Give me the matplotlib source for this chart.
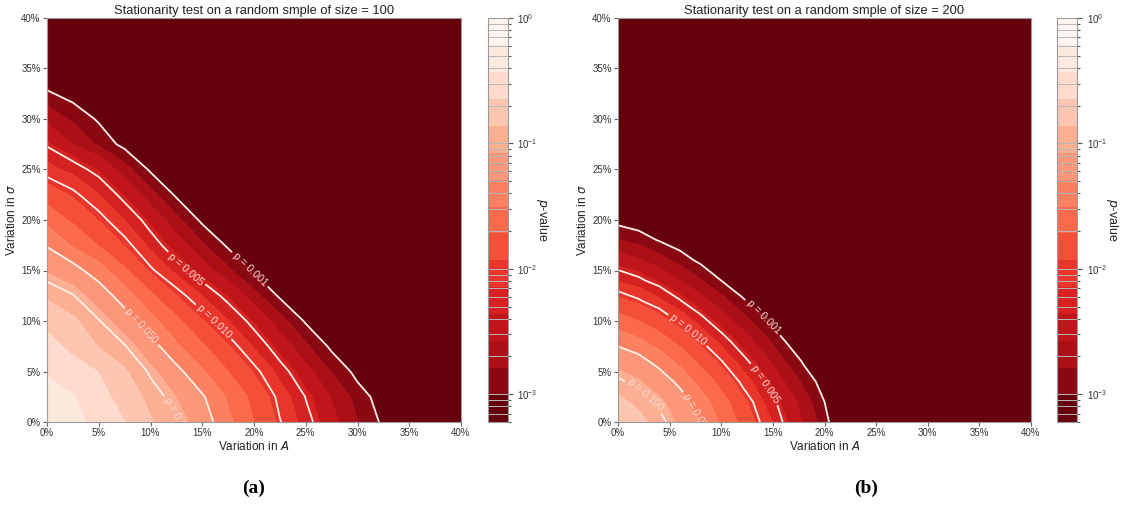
import numpy as np
import matplotlib
matplotlib.use("Agg")
import matplotlib.pyplot as plt
from matplotlib.colors import LogNorm, ListedColormap
from matplotlib.ticker import PercentFormatter, LogFormatterSciNotation

plt.rcParams['font.family'] = ['Liberation Sans', 'DejaVu Sans']

# ---------------- data (variations in %, values are log10 of the p-value) -------------
a_title = "Stationarity test on a random smple of size = 100"
b_title = "Stationarity test on a random smple of size = 200"

a_var_A = [0, 2.5, 5, 7.5, 10, 12.5, 15, 17.5, 20, 22.5, 25, 27.5, 30, 32.5, 35, 37.5, 40]
a_var_sigma = [0, 2.5, 5, 7.5, 10, 12.5, 15, 17.5, 20, 22.5, 25, 27.5, 30, 32.5, 35, 37.5, 40]
a_log10_p = [
    [-0.30, -0.38, -0.48, -0.64, -0.84, -0.98, -1.21, -1.46, -1.72, -1.99, -2.24, -2.51, -2.79, -3.06, -3.30, -3.40, -3.40],
    [-0.35, -0.42, -0.57, -0.75, -0.92, -1.08, -1.28, -1.54, -1.80, -2.06, -2.31, -2.60, -2.89, -3.15, -3.40, -3.40, -3.40],
    [-0.45, -0.55, -0.65, -0.84, -1.03, -1.25, -1.48, -1.72, -1.95, -2.22, -2.51, -2.81, -3.10, -3.37, -3.40, -3.40, -3.40],
    [-0.57, -0.71, -0.87, -0.99, -1.23, -1.47, -1.69, -1.92, -2.17, -2.45, -2.76, -3.07, -3.35, -3.40, -3.40, -3.40, -3.40],
    [-0.71, -0.83, -0.99, -1.20, -1.44, -1.68, -1.92, -2.14, -2.39, -2.72, -3.04, -3.32, -3.40, -3.40, -3.40, -3.40, -3.40],
    [-0.90, -0.99, -1.19, -1.42, -1.68, -1.93, -2.15, -2.39, -2.73, -3.05, -3.33, -3.40, -3.40, -3.40, -3.40, -3.40, -3.40],
    [-1.10, -1.23, -1.42, -1.69, -1.97, -2.21, -2.48, -2.76, -3.04, -3.32, -3.40, -3.40, -3.40, -3.40, -3.40, -3.40, -3.40],
    [-1.32, -1.53, -1.73, -1.94, -2.20, -2.48, -2.76, -3.05, -3.33, -3.40, -3.40, -3.40, -3.40, -3.40, -3.40, -3.40, -3.40],
    [-1.58, -1.76, -1.94, -2.15, -2.41, -2.74, -3.07, -3.35, -3.40, -3.40, -3.40, -3.40, -3.40, -3.40, -3.40, -3.40, -3.40],
    [-1.84, -1.96, -2.14, -2.39, -2.73, -3.05, -3.33, -3.40, -3.40, -3.40, -3.40, -3.40, -3.40, -3.40, -3.40, -3.40, -3.40],
    [-2.09, -2.21, -2.39, -2.72, -3.05, -3.33, -3.40, -3.40, -3.40, -3.40, -3.40, -3.40, -3.40, -3.40, -3.40, -3.40, -3.40],
    [-2.33, -2.59, -2.84, -3.10, -3.37, -3.40, -3.40, -3.40, -3.40, -3.40, -3.40, -3.40, -3.40, -3.40, -3.40, -3.40, -3.40],
    [-2.65, -2.84, -3.04, -3.30, -3.40, -3.40, -3.40, -3.40, -3.40, -3.40, -3.40, -3.40, -3.40, -3.40, -3.40, -3.40, -3.40],
    [-2.96, -3.12, -3.35, -3.40, -3.40, -3.40, -3.40, -3.40, -3.40, -3.40, -3.40, -3.40, -3.40, -3.40, -3.40, -3.40, -3.40],
    [-3.40, -3.40, -3.40, -3.40, -3.40, -3.40, -3.40, -3.40, -3.40, -3.40, -3.40, -3.40, -3.40, -3.40, -3.40, -3.40, -3.40],
    [-3.40, -3.40, -3.40, -3.40, -3.40, -3.40, -3.40, -3.40, -3.40, -3.40, -3.40, -3.40, -3.40, -3.40, -3.40, -3.40, -3.40],
    [-3.40, -3.40, -3.40, -3.40, -3.40, -3.40, -3.40, -3.40, -3.40, -3.40, -3.40, -3.40, -3.40, -3.40, -3.40, -3.40, -3.40],
]

b_var_A = [0, 2, 4, 6, 8, 10, 12, 14, 16, 18, 20, 22, 24, 28, 32, 36, 40]
b_var_sigma = [0, 2, 4, 6, 8, 10, 12, 14, 16, 18, 20, 22, 24, 28, 32, 36, 40]
b_log10_p = [
    [-0.75, -0.80, -0.95, -1.12, -1.30, -1.55, -1.79, -2.04, -2.31, -2.61, -2.95, -3.25, -3.40, -3.40, -3.40, -3.40, -3.40],
    [-0.81, -0.91, -1.04, -1.20, -1.41, -1.64, -1.88, -2.14, -2.41, -2.70, -3.00, -3.29, -3.40, -3.40, -3.40, -3.40, -3.40],
    [-0.97, -1.06, -1.19, -1.36, -1.58, -1.80, -2.04, -2.29, -2.57, -2.86, -3.14, -3.40, -3.40, -3.40, -3.40, -3.40, -3.40],
    [-1.15, -1.23, -1.38, -1.57, -1.78, -1.99, -2.23, -2.49, -2.77, -3.04, -3.33, -3.40, -3.40, -3.40, -3.40, -3.40, -3.40],
    [-1.37, -1.47, -1.62, -1.79, -1.99, -2.21, -2.45, -2.71, -2.98, -3.25, -3.40, -3.40, -3.40, -3.40, -3.40, -3.40, -3.40],
    [-1.63, -1.72, -1.86, -2.03, -2.23, -2.46, -2.70, -2.95, -3.21, -3.40, -3.40, -3.40, -3.40, -3.40, -3.40, -3.40, -3.40],
    [-1.89, -1.98, -2.12, -2.29, -2.50, -2.72, -2.96, -3.21, -3.40, -3.40, -3.40, -3.40, -3.40, -3.40, -3.40, -3.40, -3.40],
    [-2.17, -2.26, -2.40, -2.58, -2.78, -3.00, -3.23, -3.40, -3.40, -3.40, -3.40, -3.40, -3.40, -3.40, -3.40, -3.40, -3.40],
    [-2.47, -2.56, -2.71, -2.88, -3.07, -3.29, -3.40, -3.40, -3.40, -3.40, -3.40, -3.40, -3.40, -3.40, -3.40, -3.40, -3.40],
    [-2.79, -2.88, -3.02, -3.18, -3.37, -3.40, -3.40, -3.40, -3.40, -3.40, -3.40, -3.40, -3.40, -3.40, -3.40, -3.40, -3.40],
    [-3.11, -3.19, -3.33, -3.40, -3.40, -3.40, -3.40, -3.40, -3.40, -3.40, -3.40, -3.40, -3.40, -3.40, -3.40, -3.40, -3.40],
    [-3.40, -3.40, -3.40, -3.40, -3.40, -3.40, -3.40, -3.40, -3.40, -3.40, -3.40, -3.40, -3.40, -3.40, -3.40, -3.40, -3.40],
    [-3.40, -3.40, -3.40, -3.40, -3.40, -3.40, -3.40, -3.40, -3.40, -3.40, -3.40, -3.40, -3.40, -3.40, -3.40, -3.40, -3.40],
    [-3.40, -3.40, -3.40, -3.40, -3.40, -3.40, -3.40, -3.40, -3.40, -3.40, -3.40, -3.40, -3.40, -3.40, -3.40, -3.40, -3.40],
    [-3.40, -3.40, -3.40, -3.40, -3.40, -3.40, -3.40, -3.40, -3.40, -3.40, -3.40, -3.40, -3.40, -3.40, -3.40, -3.40, -3.40],
    [-3.40, -3.40, -3.40, -3.40, -3.40, -3.40, -3.40, -3.40, -3.40, -3.40, -3.40, -3.40, -3.40, -3.40, -3.40, -3.40, -3.40],
    [-3.40, -3.40, -3.40, -3.40, -3.40, -3.40, -3.40, -3.40, -3.40, -3.40, -3.40, -3.40, -3.40, -3.40, -3.40, -3.40, -3.40],
]

p_min = 6e-4
line_levels = [0.001, 0.005, 0.01, 0.05, 0.1]
axis_ticks = [0, 5, 10, 15, 20, 25, 30, 35, 40]
cbar_major = [1e-3, 1e-2, 1e-1, 1e0]

# label anchor positions (x, y in %)
a_label_pos = [(19.6, 15.1), (13.3, 15.0), (16.0, 9.8), (9.0, 9.35), (12.9, 0.6)]
b_label_pos = [(13.8, 10.1), (7.0, 9.4), (14.6, 4.0), (3.1, 3.2), (7.8, 1.0)]

# ---------------- figure ----------------
W, H = 1121, 505
fig = plt.figure(figsize=(W / 100, H / 100), dpi=100)

n_bands = 15
fill_levels = np.logspace(np.log10(p_min), 0, n_bands + 1)
base = plt.get_cmap('Reds_r')
band_cmap = ListedColormap([base(i / (n_bands - 1)) for i in range(n_bands)])
spine_col = '#9a9a9a'


def px_rect(x0, y0, x1, y1):
    return [x0 / W, 1 - y1 / H, (x1 - x0) / W, (y1 - y0) / H]


def panel(ax_rect, cax_rect, xs, ys, logp, title, label_pos, letter, letter_x):
    ax = fig.add_axes(px_rect(*ax_rect))
    cax = fig.add_axes(px_rect(*cax_rect))
    X, Y = np.meshgrid(xs, ys)
    P = 10.0 ** np.array(logp)
    Pf = np.clip(P, fill_levels[0], 1.0)
    cf = ax.contourf(X, Y, Pf, levels=fill_levels,
                     norm=LogNorm(vmin=fill_levels[0], vmax=1.0), cmap=band_cmap)
    cs = ax.contour(X, Y, P, levels=line_levels, colors='#fff1ec', linewidths=1.3)
    txts = ax.clabel(cs, fmt=lambda v: f"p = {v:.3f}", manual=label_pos, inline=True,
                     fontsize=7.5, colors='#f8dcd3', inline_spacing=3)
    for t in txts:
        t.set_clip_on(True)
    ax.set_xlim(0, 40)
    ax.set_ylim(0, 40)
    ax.set_xticks(axis_ticks)
    ax.set_yticks(axis_ticks)
    ax.xaxis.set_major_formatter(PercentFormatter(xmax=100, decimals=0))
    ax.yaxis.set_major_formatter(PercentFormatter(xmax=100, decimals=0))
    ax.tick_params(labelsize=7, length=3, width=0.8, color='#666666', labelcolor='#333333', pad=1.5)
    for s in ax.spines.values():
        s.set_color(spine_col)
        s.set_linewidth(0.8)
    ax.set_title(title, fontsize=9.3, pad=3, color='#222222')
    ax.set_xlabel('Variation in $A$', fontsize=8.5, labelpad=1, color='#222222')
    ax.set_ylabel('Variation in $\\sigma$', fontsize=8.5, labelpad=2, color='#222222')

    cb = fig.colorbar(cf, cax=cax)
    cb.set_ticks(cbar_major)
    cb.ax.yaxis.set_major_formatter(LogFormatterSciNotation())
    minors = [k * 10.0 ** e for e in range(-4, 0) for k in range(2, 10)]
    minors = [m for m in minors if fill_levels[0] < m < 1.0]
    cb.ax.set_yticks(minors, minor=True)
    for v in minors + cbar_major[:-1]:
        cb.ax.axhline(v, color='#b8b8b8', lw=0.7)
    cb.ax.tick_params(which='both', labelsize=7, color='#555555', labelcolor='#333333', width=0.8)
    cb.ax.tick_params(which='major', length=3.5)
    cb.ax.tick_params(which='minor', length=2.5)
    cb.outline.set_edgecolor(spine_col)
    cb.outline.set_linewidth(0.8)
    cb.set_label('$p$-value', rotation=270, fontsize=9, labelpad=9, color='#222222')

    fig.text(letter_x / W, 1 - 488 / H, letter, ha='center', va='center', fontsize=14,
             fontweight='bold', family=['Liberation Serif', 'DejaVu Serif'])


panel((47, 18, 461, 422), (487.5, 18, 507.5, 422), a_var_A, a_var_sigma, a_log10_p,
      a_title, a_label_pos, '(a)', 254)
panel((618, 18, 1031, 422), (1057, 18, 1077, 422), b_var_A, b_var_sigma, b_log10_p,
      b_title, b_label_pos, '(b)', 866)

fig.savefig('out.png', dpi=100)
